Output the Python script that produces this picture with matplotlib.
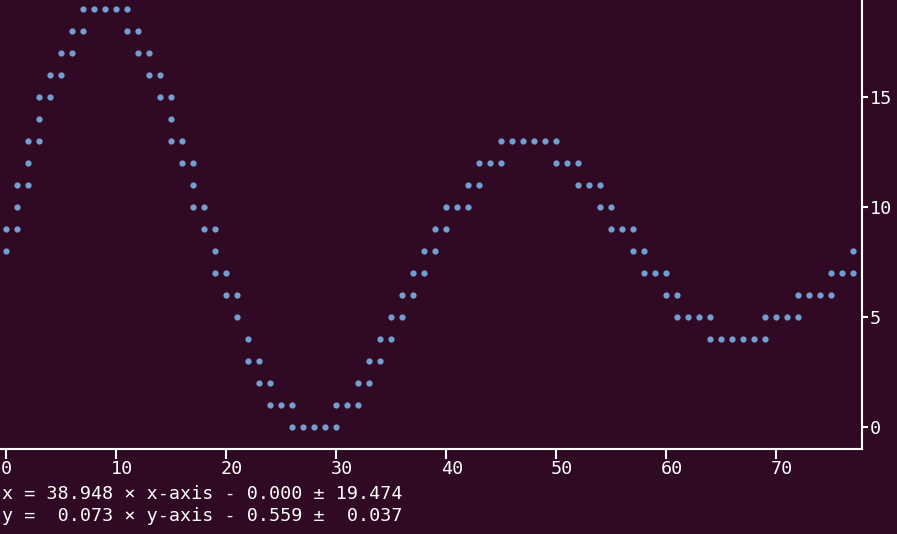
import matplotlib
matplotlib.use("Agg")
import matplotlib.pyplot as plt
import matplotlib.transforms as mtransforms

BG = "#300A24"
DOT = "#729FCF"
FG = "#FFFFFF"

# dots, column by column (x, y)
dot_x = [0, 0, 1, 1, 1, 2, 2, 2, 3, 3, 3, 4, 4, 5, 5, 6, 6, 7, 7, 8, 9, 10,
         11, 11, 12, 12, 13, 13, 14, 14, 15, 15, 15, 16, 16, 17, 17, 17,
         18, 18, 19, 19, 19, 20, 20, 21, 21, 22, 22, 23, 23, 24, 24, 25,
         26, 26, 27, 28, 29, 30, 30, 31, 32, 32, 33, 33, 34, 34, 35, 35,
         36, 36, 37, 37, 38, 38, 39, 39, 40, 40, 41, 42, 42, 43, 43, 44,
         45, 45, 46, 47, 48, 49, 50, 50, 51, 52, 52, 53, 54, 54, 55, 55,
         56, 57, 57, 58, 58, 59, 60, 60, 61, 61, 62, 63, 64, 64, 65, 66,
         67, 68, 69, 69, 70, 71, 72, 72, 73, 74, 75, 75, 76, 77, 77]
dot_y = [9, 8, 11, 10, 9, 13, 12, 11, 15, 14, 13, 16, 15, 17, 16, 18, 17, 19, 18, 19, 19, 19,
         19, 18, 18, 17, 17, 16, 16, 15, 15, 14, 13, 13, 12, 12, 11, 10,
         10, 9, 9, 8, 7, 7, 6, 6, 5, 4, 3, 3, 2, 2, 1, 1,
         1, 0, 0, 0, 0, 0, 1, 1, 1, 2, 2, 3, 3, 4, 4, 5,
         5, 6, 6, 7, 7, 8, 8, 9, 9, 10, 10, 10, 11, 11, 12, 12,
         12, 13, 13, 13, 13, 13, 13, 12, 12, 12, 11, 11, 11, 10, 10, 9,
         9, 9, 8, 8, 7, 7, 7, 6, 6, 5, 5, 5, 5, 4, 4, 4,
         4, 4, 4, 5, 5, 5, 5, 6, 6, 6, 6, 7, 7, 7, 8]

x_ticks = [0, 10, 20, 30, 40, 50, 60, 70]
y_ticks = [0, 5, 10, 15]
readout = ["x = 38.948 \u00d7 x-axis - 0.000 \u00b1 19.474",
           "y =  0.073 \u00d7 y-axis - 0.559 \u00b1  0.037"]

plt.rcParams["font.family"] = ["DejaVu Sans Mono", "DejaVu Sans"]
plt.rcParams["font.size"] = 13.2

W, H = 897, 534
fig = plt.figure(figsize=(W / 100, H / 100), dpi=100, facecolor=BG)
ax = fig.add_axes([0, 1 - 449 / H, 862 / W, 449 / H])
ax.set_facecolor(BG)

ax.plot(dot_x, dot_y, linestyle="none", marker="o", markersize=4.5,
        color=DOT, markeredgewidth=0)

ax.set_xlim(-6 / 11, 856 / 11)
ax.set_ylim(-1.0, 427 / 22)

for side in ("top", "left"):
    ax.spines[side].set_visible(False)
for side in ("bottom", "right"):
    ax.spines[side].set_color(FG)
    ax.spines[side].set_linewidth(1.5)

ax.yaxis.tick_right()
ax.set_xticks(x_ticks)
ax.set_yticks(y_ticks)
ax.tick_params(axis="x", colors=FG, length=7, width=1.5, pad=1)
ax.tick_params(axis="y", colors=FG, length=4.5, width=1.5, pad=1)

# terminal style: x labels start at the tick's character cell
shift = mtransforms.ScaledTranslation(-5.0 / 100, 0, fig.dpi_scale_trans)
for lab in ax.get_xticklabels():
    lab.set_horizontalalignment("left")
    lab.set_transform(lab.get_transform() + shift)

for i, line in enumerate(readout):
    fig.text(2 / W, 1 - (494 + 22 * i) / H, line, color=FG,
             ha="left", va="center", fontsize=13.2)

fig.savefig("out.png", dpi=100, facecolor=BG)
